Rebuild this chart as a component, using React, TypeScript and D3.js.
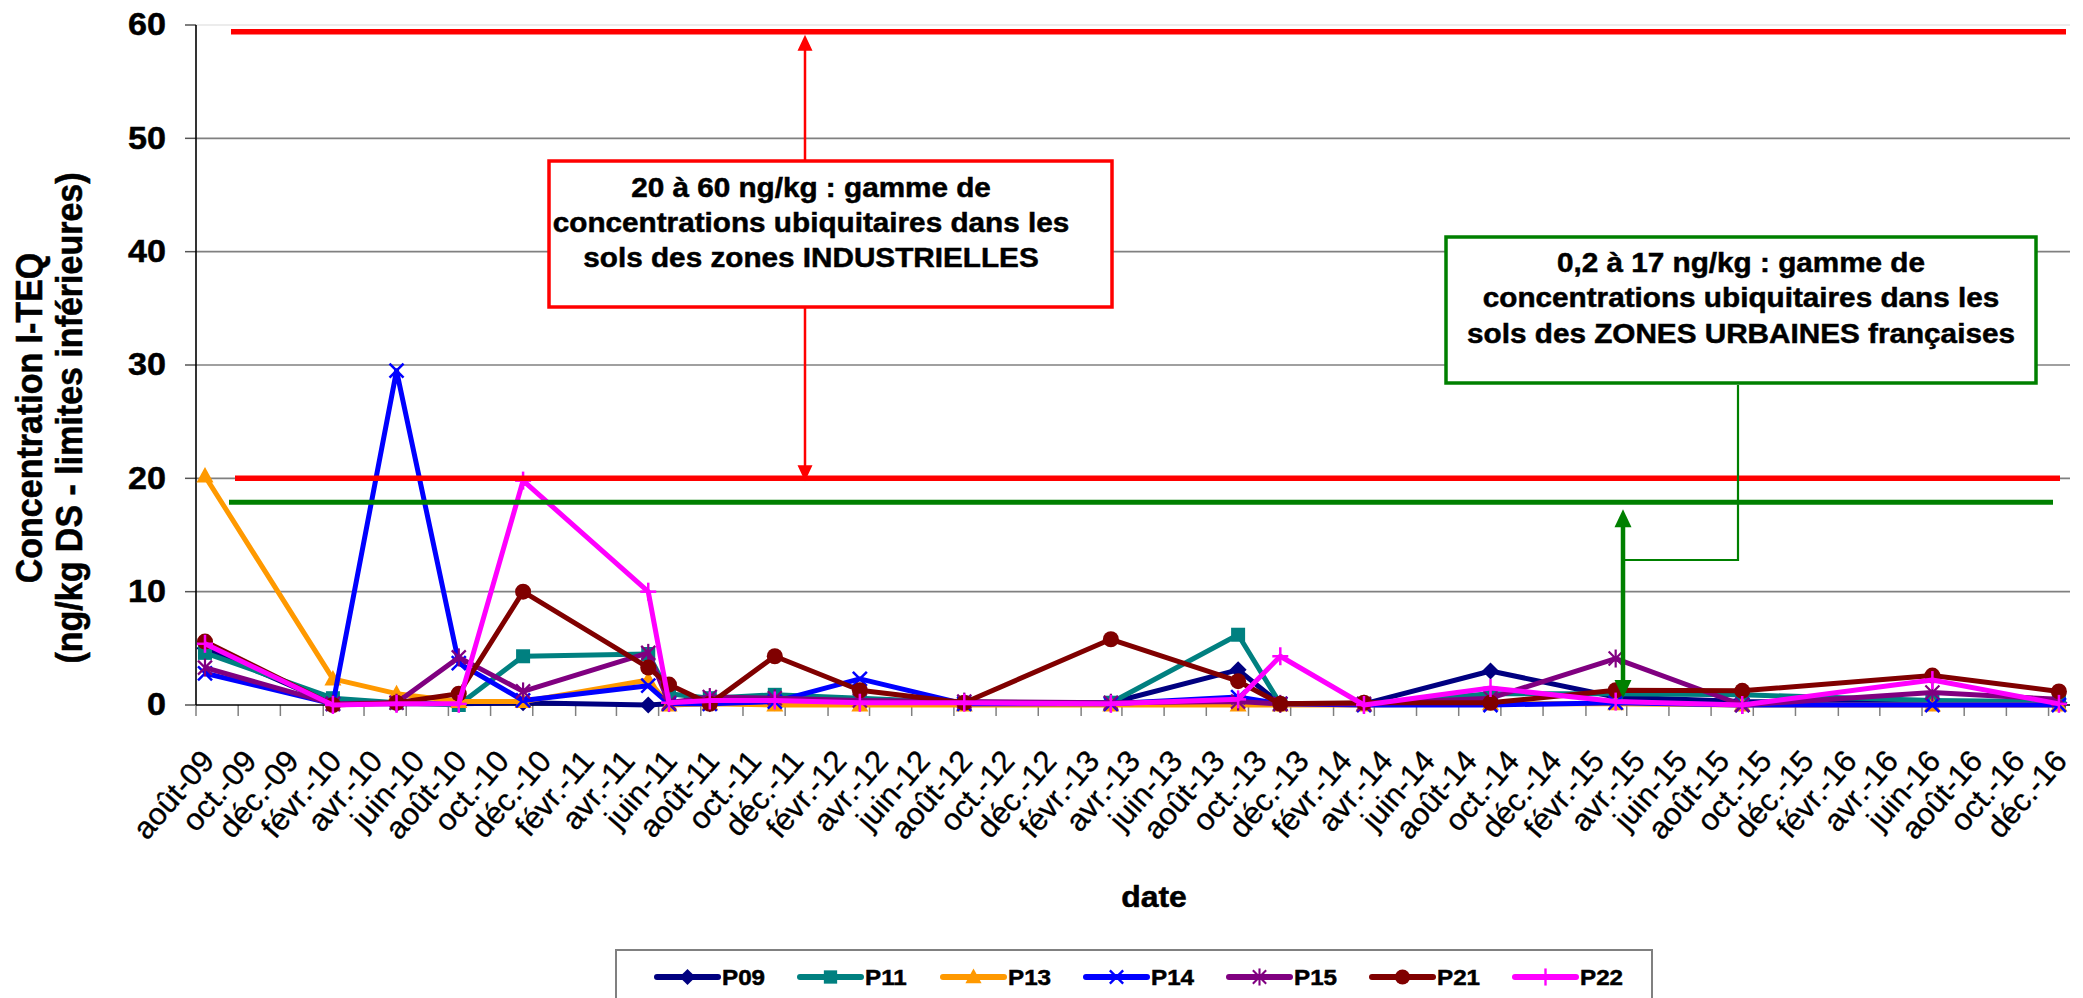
import React from 'react';
import * as d3 from 'd3';

// ---------- DATA ----------
const sampleDates = [
  '2009-08-14', '2010-02-15', '2010-05-18', '2010-08-16', '2010-11-17',
  '2011-05-17', '2011-06-16', '2011-08-14', '2011-11-16', '2012-03-18',
  '2012-08-16', '2013-03-16', '2013-09-16', '2013-11-16', '2014-03-17',
  '2014-09-16', '2015-03-16', '2015-09-15', '2016-06-16', '2016-12-16',
];

const P09 = [5.0, 0.1, 0.1, 0.1, 0.2, 0.0, 0.1, 0.1, 0.2, 0.2, 0.2, 0.2, 3.1, 0.1, 0.1, 3.0, 0.7, 0.3, 0.2, 0.2];
const P11 = [4.6, 0.6, 0.2, 0.0, 4.3, 4.5, 1.0, 0.6, 0.9, 0.6, 0.2, 0.2, 6.2, 0.1, 0.1, 1.0, 1.0, 0.9, 0.4, 0.3];
const P13 = [20.2, 2.3, 1.0, 0.3, 0.3, 2.2, 0.0, 0.1, 0.0, 0.0, 0.0, 0.0, 0.0, 0.0, 0.0, 0.1, 0.1, 0.0, 0.0, 0.0];
const P14 = [2.8, 0.1, 29.5, 3.7, 0.4, 1.7, 0.1, 0.1, 0.3, 2.3, 0.1, 0.1, 0.7, 0.1, 0.0, 0.0, 0.2, 0.0, 0.0, 0.0];
const P15 = [3.3, 0.1, 0.2, 4.2, 1.2, 4.6, 0.2, 0.7, 0.6, 0.4, 0.3, 0.2, 0.3, 0.1, 0.1, 0.6, 4.1, 0.0, 1.1, 0.5];
const P21 = [5.6, 0.0, 0.2, 1.0, 10.0, 3.3, 1.8, 0.1, 4.3, 1.3, 0.2, 5.8, 2.1, 0.1, 0.2, 0.2, 1.3, 1.25, 2.6, 1.2];
const P22 = [5.4, 0.0, 0.1, 0.1, 19.8, 10.0, 0.2, 0.4, 0.4, 0.2, 0.2, 0.1, 0.5, 4.3, 0.0, 1.5, 0.3, 0.0, 2.2, 0.1];

const seriesNames = ['P09', 'P11', 'P13', 'P14', 'P15', 'P21', 'P22'];
const seriesValues = [P09, P11, P13, P14, P15, P21, P22];

const tickLabels = [
  'août-09', 'oct.-09', 'déc.-09', 'févr.-10', 'avr.-10', 'juin-10', 'août-10', 'oct.-10', 'déc.-10',
  'févr.-11', 'avr.-11', 'juin-11', 'août-11', 'oct.-11', 'déc.-11', 'févr.-12', 'avr.-12', 'juin-12',
  'août-12', 'oct.-12', 'déc.-12', 'févr.-13', 'avr.-13', 'juin-13', 'août-13', 'oct.-13', 'déc.-13',
  'févr.-14', 'avr.-14', 'juin-14', 'août-14', 'oct.-14', 'déc.-14', 'févr.-15', 'avr.-15', 'juin-15',
  'août-15', 'oct.-15', 'déc.-15', 'févr.-16', 'avr.-16', 'juin-16', 'août-16', 'oct.-16', 'déc.-16',
];
const yTicks = [0, 10, 20, 30, 40, 50, 60];

const industrialRange = [20, 59.4];
const urbanLevel = 17.9;

const redBoxLines = ['20 à 60 ng/kg : gamme de', 'concentrations ubiquitaires dans les', 'sols des zones INDUSTRIELLES'];
const greenBoxLines = ['0,2 à 17 ng/kg : gamme de', 'concentrations ubiquitaires dans les', 'sols des ZONES URBAINES françaises'];

// ---------- STYLE ----------
const colors = ['#000080', '#008080', '#FF9900', '#0000FF', '#800080', '#800000', '#FF00FF'];
const markers = ['diamond', 'square', 'triangle', 'x', 'star', 'circle', 'plus'];
const FONT = '"Liberation Sans", Arial, sans-serif';
const SX = 1.1;

const W = 2083;
const H = 998;
const X0 = 196, X1 = 2070, Y0 = 705, Y1 = 25;

const parse = d3.timeParse('%Y-%m-%d');
const dates = sampleDates.map((s) => parse(s) as Date);
const axisStart = new Date(2009, 7, 1);
const xScale = d3.scaleTime().domain([axisStart, new Date(2017, 0, 1)]).range([X0, X1]);
const yScale = d3.scaleLinear().domain([0, 60]).range([Y0, Y1]);
const tickDates = tickLabels.map((_, i) => d3.timeMonth.offset(axisStart, 2 * i));

function Marker({ type, cx, cy, color, s = 1 }: { type: string; cx: number; cy: number; color: string; s?: number }) {
  const t = `translate(${cx},${cy}) scale(${s})`;
  switch (type) {
    case 'diamond':
      return <path transform={t} d="M0,-8.5L8.5,0L0,8.5L-8.5,0Z" fill={color} />;
    case 'square':
      return <rect transform={t} x={-7} y={-7} width={14} height={14} fill={color} />;
    case 'triangle':
      return <path transform={t} d="M0,-9L8.5,6.5L-8.5,6.5Z" fill={color} />;
    case 'x':
      return (
        <g transform={t} stroke={color} strokeWidth={2.5}>
          <line x1={-7} y1={-7} x2={7} y2={7} />
          <line x1={-7} y1={7} x2={7} y2={-7} />
        </g>
      );
    case 'star':
      return (
        <g transform={t} stroke={color} strokeWidth={2.2}>
          <line x1={-7} y1={-7} x2={7} y2={7} />
          <line x1={-7} y1={7} x2={7} y2={-7} />
          <line x1={0} y1={-9} x2={0} y2={9} />
        </g>
      );
    case 'circle':
      return <circle transform={t} r={8} fill={color} />;
    case 'plus':
      return (
        <g transform={t} stroke={color} strokeWidth={2.5}>
          <line x1={-8} y1={0} x2={8} y2={0} />
          <line x1={0} y1={-9} x2={0} y2={9} />
        </g>
      );
    default:
      return null;
  }
}

function SText({ x, y, children, size, weight = 'bold', anchor = 'middle', rotate = 0, baseline = 'central', sx = SX, sw = 0.5 }: any) {
  return (
    <text
      transform={`translate(${x},${y}) scale(${sx},1) rotate(${rotate})`}
      fontFamily={FONT}
      fontSize={size}
      fontWeight={weight}
      textAnchor={anchor}
      dominantBaseline={baseline}
      fill="#000"
      stroke="#000"
      strokeWidth={sw}
    >
      {children}
    </text>
  );
}

function Arrow({ x, yTop, yBottom, color, width, head, headW }: any) {
  return (
    <g>
      <line x1={x} y1={yTop + head - 1} x2={x} y2={yBottom - head + 1} stroke={color} strokeWidth={width} />
      <path d={`M${x},${yTop}L${x + headW / 2},${yTop + head}L${x - headW / 2},${yTop + head}Z`} fill={color} />
      <path d={`M${x},${yBottom}L${x + headW / 2},${yBottom - head}L${x - headW / 2},${yBottom - head}Z`} fill={color} />
    </g>
  );
}

export default function App() {
  const line = d3
    .line<number>()
    .x((_, i) => xScale(dates[i]))
    .y((d) => yScale(d));

  const legendX0 = 657;
  const legendStep = 143;
  const legendY = 977;

  return (
    <svg
      width={W}
      height={H}
      viewBox={`0 0 ${W} ${H}`}
      style={{ position: 'absolute', left: 0, top: 0, background: '#fff' }}
    >
      <rect x={0} y={0} width={W} height={H} fill="#fff" />

      {/* gridlines */}
      {yTicks.map((v) => (
        <line
          key={'g' + v}
          x1={X0}
          x2={X1}
          y1={yScale(v)}
          y2={yScale(v)}
          stroke={v === 60 ? '#e6e6e6' : '#808080'}
          strokeWidth={v === 0 ? 0 : 1.6}
        />
      ))}

      {/* y ticks & labels */}
      {yTicks.map((v) => (
        <g key={'yt' + v}>
          <line x1={X0 - 11} x2={X0} y1={yScale(v)} y2={yScale(v)} stroke="#555" strokeWidth={1.5} />
          <SText x={166} y={yScale(v)} size={31} anchor="end">
            {v}
          </SText>
        </g>
      ))}

      {/* x ticks & labels */}
      {tickDates.map((d, i) => (
        <g key={'xt' + i}>
          <line x1={xScale(d)} x2={xScale(d)} y1={Y0} y2={Y0 + 11} stroke="#808080" strokeWidth={1.5} />
          <SText x={xScale(d) + 12} y={Y0 + 50} size={31} weight="normal" anchor="end" rotate={-49} sx={1} sw={0.35}>
            {tickLabels[i]}
          </SText>
        </g>
      ))}

      {/* axes */}
      <line x1={X0} x2={X0} y1={Y1} y2={Y0} stroke="#000" strokeWidth={1.6} />
      <line x1={X0} x2={X1} y1={Y0} y2={Y0} stroke="#000" strokeWidth={1.6} />

      {/* axis titles */}
      <SText x={42} y={418} size={34} rotate={-90} baseline="auto">
        Concentration I-TEQ
      </SText>
      <SText x={82} y={418} size={34} rotate={-90} baseline="auto">
        (ng/kg DS - limites inférieures)
      </SText>
      <SText x={1154} y={897} size={29}>
        date
      </SText>

      {/* series */}
      {seriesValues.map((vals, si) => (
        <g key={seriesNames[si]}>
          <path
            d={line(vals) || ''}
            fill="none"
            stroke={colors[si]}
            strokeWidth={5}
            strokeLinejoin="round"
          />
          {vals.map((v, i) => (
            <Marker key={i} type={markers[si]} cx={xScale(dates[i])} cy={yScale(v)} color={colors[si]} />
          ))}
        </g>
      ))}

      {/* reference lines */}
      <line x1={231} x2={2066} y1={yScale(industrialRange[1])} y2={yScale(industrialRange[1])} stroke="#FF0000" strokeWidth={5.5} />
      <line x1={235} x2={2060} y1={yScale(industrialRange[0])} y2={yScale(industrialRange[0])} stroke="#FF0000" strokeWidth={5.5} />
      <line x1={229} x2={2053} y1={yScale(urbanLevel)} y2={yScale(urbanLevel)} stroke="#008000" strokeWidth={5} />

      {/* red double arrow + box */}
      <Arrow
        x={805}
        yTop={yScale(industrialRange[1]) + 3}
        yBottom={yScale(industrialRange[0]) + 3}
        color="#FF0000"
        width={2.5}
        head={16}
        headW={15}
      />
      <rect x={549} y={161} width={563} height={146} fill="#fff" stroke="#FF0000" strokeWidth={3.5} />
      {redBoxLines.map((t, i) => (
        <SText key={'r' + i} x={811} y={187 + i * 35} size={27}>
          {t}
        </SText>
      ))}

      {/* green connector, arrow + box */}
      <polyline points="1738,385 1738,560 1625,560" fill="none" stroke="#008000" strokeWidth={2.2} />
      <Arrow
        x={1623}
        yTop={yScale(urbanLevel) + 7}
        yBottom={698}
        color="#008000"
        width={4.5}
        head={18}
        headW={17}
      />
      <rect x={1446} y={237} width={590} height={146} fill="#fff" stroke="#008000" strokeWidth={3.5} />
      {greenBoxLines.map((t, i) => (
        <SText key={'gr' + i} x={1741} y={262 + i * 35.5} size={27}>
          {t}
        </SText>
      ))}

      {/* legend */}
      <rect x={616} y={950} width={1036} height={70} fill="#fff" stroke="#808080" strokeWidth={2} />
      {seriesNames.map((n, i) => {
        const lx = legendX0 + i * legendStep;
        return (
          <g key={'lg' + n}>
            <line x1={lx} x2={lx + 61} y1={legendY} y2={legendY} stroke={colors[i]} strokeWidth={6} strokeLinecap="round" />
            <Marker type={markers[i]} cx={lx + 30.5} cy={legendY} color={colors[i]} s={0.95} />
            <SText x={lx + 65} y={legendY} size={22} anchor="start">
              {n}
            </SText>
          </g>
        );
      })}
    </svg>
  );
}
